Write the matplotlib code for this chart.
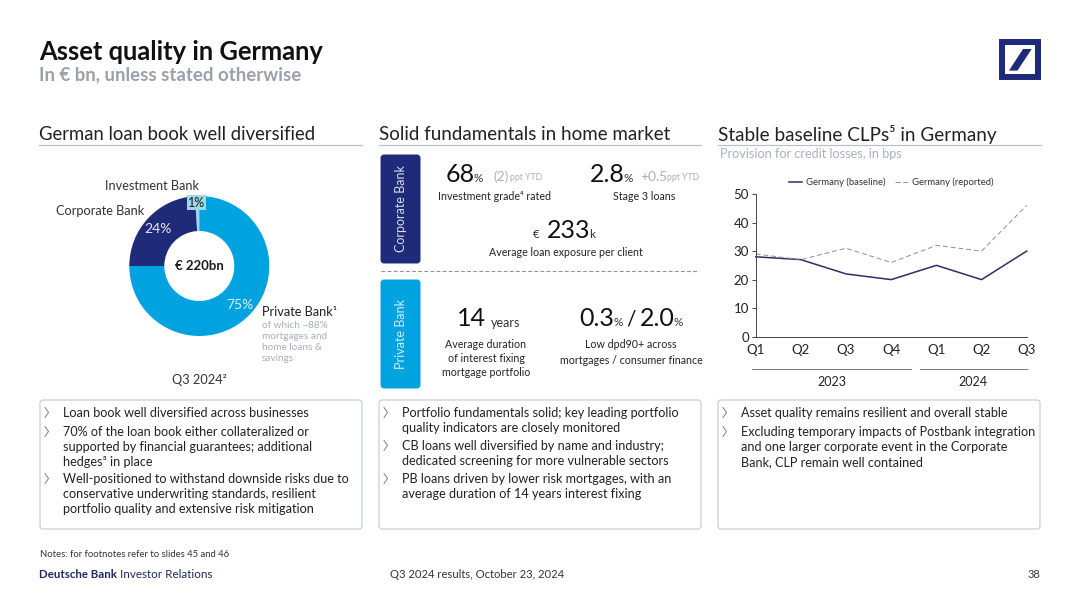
"""Asset quality in Germany slide, drawn on a pixel canvas."""
import matplotlib
matplotlib.use("Agg")
import matplotlib.pyplot as plt
from matplotlib.patches import FancyBboxPatch, Polygon, Rectangle

plt.rcParams["font.family"] = ["Lato", "DejaVu Sans"]

NAVY = "#1f2a78"
BLUE = "#00a3df"
LIGHT = "#9fd8ea"
DARK = "#1b1b1f"
GREY = "#a9b0b8"
LINE = "#b9c0c8"

# donut
shares = [1, 24, 75]
share_labels = ["1%", "24%", "75%"]
share_colors = [LIGHT, NAVY, BLUE]
total_label = "€ 220bn"

# line chart
quarters = ["Q1", "Q2", "Q3", "Q4", "Q1", "Q2", "Q3"]
baseline = [28, 27, 22, 20, 25, 20, 30]
reported = [29, 27, 31, 26, 32, 30, 46]
y_ticks = [0, 10, 20, 30, 40, 50]

W, H = 1080, 607
fig = plt.figure(figsize=(W / 100, H / 100), dpi=100, facecolor="white")
ax = fig.add_axes([0, 0, 1, 1])
ax.set_xlim(0, W); ax.set_ylim(0, H); ax.axis("off")
ax.set_zorder(5)  # canvas text goes over the donut


def Y(y):  # picture coords, top is 0
    return H - y


def txt(x, y, s, size, color=DARK, weight="normal", ha="left", rot=0):
    return ax.text(x, Y(y + 1), s, fontsize=size, color=color, fontweight=weight,
                   ha=ha, va="center", rotation=rot)


def box(x, y, w, h, fc="white", ec="#bcc2c8", rounding=3, lw=0.7):
    ax.add_patch(FancyBboxPatch((x, Y(y + h)), w, h,
                                boxstyle=f"round,pad=0,rounding_size={rounding}",
                                facecolor=fc, edgecolor=ec, linewidth=lw))


def rule(x1, x2, y, color=LINE, lw=0.9, ls="-"):
    ax.plot([x1, x2], [Y(y), Y(y)], color=color, lw=lw, ls=ls)


def bullets(x, rows, size=9.1):
    for y, s, first in rows:
        if first:
            ax.plot([x - 2, x + 1.5, x - 2], [Y(y - 4.5), Y(y + 0.5), Y(y + 5.5)],
                    color="#666a70", lw=0.6)
        txt(x + 16, y, s, size, "#222226")


# header
txt(39, 50.5, "Asset quality in Germany", 18.4, "#111111", "bold")
txt(39, 73.5, "In € bn, unless stated otherwise", 13.4, "#9aa1a9", "bold")

# logo
ax.add_patch(Rectangle((1002.3, Y(77.3)), 35.7, 35.3, facecolor="white", edgecolor=NAVY, linewidth=4.3))
ax.add_patch(Polygon([(1009, Y(70.6)), (1023, Y(49)), (1031.7, Y(49)), (1017.5, Y(70.6))],
                     closed=True, facecolor=NAVY, edgecolor="none"))

# column headings
txt(39, 133, "German loan book well diversified", 13.35, "#222226")
txt(379, 133, "Solid fundamentals in home market", 13.5, "#222226")
txt(718, 133, "Stable baseline CLPs⁵ in Germany", 13.55, "#222226")
rule(39, 362, 144.5); rule(379, 701, 144.5); rule(718, 1041, 144.5)
txt(720, 152.5, "Provision for credit losses, in bps", 9.1, GREY)

# donut
dx = fig.add_axes([(199.3 - 70) / W, 1 - 336 / H, 140 / W, 140 / H])
dx.pie(shares, colors=share_colors, startangle=90, counterclock=True,
       radius=1.0, wedgeprops=dict(width=0.5, linewidth=0))
dx.set_xlim(-1, 1); dx.set_ylim(-1, 1)
txt(199.5, 265, total_label, 9.5, DARK, "bold", ha="center")
txt(105, 185, "Investment Bank", 9.2, "#333338")
txt(56, 210, "Corporate Bank", 9.2, "#333338")
ax.add_patch(Rectangle((187, Y(210)), 19, 15, facecolor=LIGHT, edgecolor="none"))
txt(197, 202, share_labels[0], 9, DARK, ha="center")
txt(158, 228, share_labels[1], 10, "#e6e8f2", ha="center")
txt(240, 304, share_labels[2], 10, "#d8f1fb", ha="center")
txt(262, 311, "Private Bank¹", 9.2, "#222226")
txt(262, 324, "of which ~88%", 7.2, GREY)
txt(262, 335.5, "mortgages and", 7.2, GREY)
txt(262, 346, "home loans &", 7.2, GREY)
txt(262, 357.5, "savings", 7.2, GREY)
txt(199, 379, "Q3 2024²", 9.2, "#333338", ha="center")

# middle column
box(381, 155, 39, 108, fc=NAVY, ec=NAVY, rounding=3)
box(381, 280, 39, 108, fc=BLUE, ec=BLUE, rounding=3)
txt(401, 208, "Corporate Bank", 9, "#d9dcec", ha="center", rot=90)
txt(401, 333, "Private Bank", 9, "#d3eefa", ha="center", rot=90)
rule(381, 699, 271, color="#8f949a", lw=0.8, ls=(0, (3.5, 2)))

txt(446, 173, "68", 18, "#111111")
txt(474, 177, "%", 8.5, "#333333")
txt(493, 176, "(2)", 9.8, GREY)
txt(510, 177, "ppt YTD", 6.3, GREY)
txt(495, 196, "Investment grade⁴ rated", 7.7, "#222226", ha="center")
txt(590, 173, "2.8", 18, "#111111")
txt(624, 177, "%", 8.5, "#333333")
txt(640, 176, "+0.5", 9.8, GREY)
txt(667, 177, "ppt YTD", 6.3, GREY)
txt(644, 196, "Stage 3 loans", 7.7, "#222226", ha="center")
txt(533, 233, "€", 8.5, "#333333")
txt(547, 229, "233", 18, "#111111")
txt(589, 234, "k", 8.5, "#333333")
txt(566, 251, "Average loan exposure per client", 7.7, "#222226", ha="center")

txt(457, 317, "14", 18, "#111111")
txt(491, 322, "years", 9, "#333333")
txt(486, 344, "Average duration", 7.7, "#222226", ha="center")
txt(486, 357, "of interest fixing", 7.7, "#222226", ha="center")
txt(486, 371, "mortgage portfolio", 7.7, "#222226", ha="center")
txt(579, 317, "0.3", 18, "#111111")
txt(614, 322, "%", 8.5, "#333333")
txt(626, 318, "/", 15, "#111111")
txt(640, 317, "2.0", 18, "#111111")
txt(674, 322, "%", 8.5, "#333333")
txt(631, 344, "Low dpd90+ across", 7.7, "#222226", ha="center")
txt(631, 360, "mortgages / consumer finance", 7.7, "#222226", ha="center")

# line chart
lx = fig.add_axes([755.7 / W, 1 - 336.7 / H, 271 / W, 142.7 / H])
lx.plot(range(len(baseline)), baseline, color="#2b2f63", lw=1.1, label="Germany (baseline)", clip_on=False)
lx.plot(range(len(reported)), reported, color="#8a8f97", lw=0.7, ls=(0, (5, 3)),
        label="Germany (reported)", clip_on=False)
lx.set_xlim(0, 6); lx.set_ylim(0, 50)
lx.set_xticks(range(len(quarters)), quarters, fontsize=9.5, color="#222226")
lx.set_yticks(y_ticks, [str(v) for v in y_ticks], fontsize=9.5, color="#222226")
lx.tick_params(axis="x", length=0, pad=5.5)
lx.tick_params(axis="y", length=3, width=0.7, pad=2, color="#444444")
lx.spines[["top", "right"]].set_visible(False)
lx.spines[["left", "bottom"]].set_linewidth(0.7)
lx.spines[["left", "bottom"]].set_color("#444444")
lx.patch.set_alpha(0)
lx.legend(loc="upper center", bbox_to_anchor=(0.501, 1.175), ncol=2, frameon=False, fontsize=6.8,
          handlelength=1.38, columnspacing=1.06, handletextpad=0.42, labelcolor="#333338")
rule(752, 911, 368.5, color="#777b80", lw=0.7)
rule(920, 1027, 368.5, color="#777b80", lw=0.7)
txt(832, 381, "2023", 9, "#222226", ha="center")
txt(973, 381, "2024", 9, "#222226", ha="center")

# text boxes
box(40, 400, 322, 129); box(379, 400, 322, 129); box(718, 400, 322, 129)
bullets(47, [
    (412, "Loan book well diversified across businesses", True),
    (431, "70% of the loan book either collateralized or", True),
    (446, "supported by financial guarantees; additional", False),
    (461, "hedges³ in place", False),
    (478, "Well-positioned to withstand downside risks due to", True),
    (493, "conservative underwriting standards, resilient", False),
    (508, "portfolio quality and extensive risk mitigation", False),
])
bullets(386, [
    (412, "Portfolio fundamentals solid; key leading portfolio", True),
    (427, "quality indicators are closely monitored", False),
    (445, "CB loans well diversified by name and industry;", True),
    (460, "dedicated screening for more vulnerable sectors", False),
    (478, "PB loans driven by lower risk mortgages, with an", True),
    (493, "average duration of 14 years interest fixing", False),
])
bullets(725, [
    (412, "Asset quality remains resilient and overall stable", True),
    (431, "Excluding temporary impacts of Postbank integration", True),
    (446, "and one larger corporate event in the Corporate", False),
    (461, "Bank, CLP remain well contained", False),
])

# footer
txt(40, 553.5, "Notes: for footnotes refer to slides 45 and 46", 6.8, "#333338")
txt(39, 573, "Deutsche Bank", 8.3, "#1f2a60", "bold")
txt(120, 573, "Investor Relations", 8.4, "#1f2a60")
txt(477, 573, "Q3 2024 results, October 23, 2024", 8.1, "#333338", ha="center")
txt(1040, 573, "38", 8, "#333338", ha="right")

fig.savefig("out.png", dpi=100, facecolor="white")
